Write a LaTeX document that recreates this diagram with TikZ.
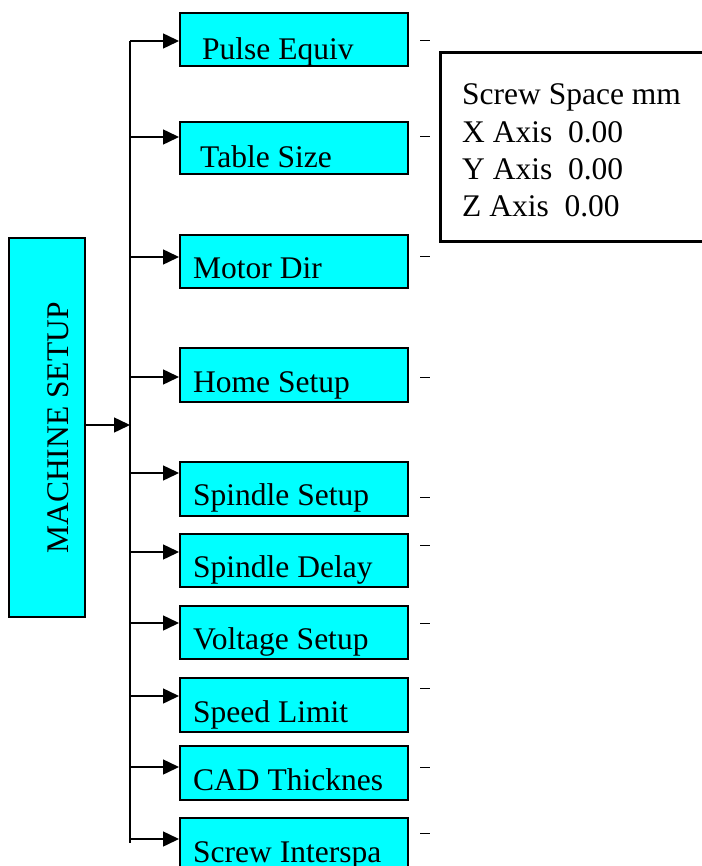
\documentclass[tikz,border=0pt]{standalone}
\usepackage{fontspec}
\setmainfont{Liberation Serif}
\usetikzlibrary{arrows.meta}
\definecolor{boxcyan}{RGB}{0,255,255}

\begin{document}
\begin{tikzpicture}[x=1pt, y=-1pt,
    menubox/.style={draw, line width=2pt, fill=boxcyan, inner sep=0pt},
    menutext/.style={anchor=base west, inner sep=0pt, font=\fontsize{31.5}{37.5}\selectfont},
    feed/.style={line width=1.5pt, -{Triangle[length=16pt, width=15pt]}}]
      \useasboundingbox (0,0) rectangle (701,866);

      \node[menubox, minimum width=76pt, minimum height=379pt] (mbox) at (47,427.5) {};
      \node[menutext, anchor=base, rotate=90] (mtext) at (68,428) {MACHINE SETUP};

      \coordinate (hub) at (130,425);
      \coordinate (trunktop) at (130,41);
      \coordinate (trunkbot) at (130,843);
      \draw[line width=1.5pt] (trunktop) -- (trunkbot);
      \draw[feed] (mbox.east |- hub) -- (hub);

      \foreach \n/\top/\bot/\ay/\dy/\tx/\ty/\txt in {
          pulse/13/66/41/41/202/60/Pulse Equiv,
          table/122/174/137/137/200/168/Table Size,
          motor/235/288/257/257/193/278/Motor Dir,
          home/348/402/377/377/193/392/Home Setup,
          spset/462/516/473/497/193/505/Spindle Setup,
          spdel/534/587/552/545/193/577/Spindle Delay,
          volt/606/659/623/623/193/649/Voltage Setup,
          speed/678/732/696/688/193/722/Speed Limit,
          cad/746/800/767/767/193/790/CAD Thicknes,
          screw/818/871/839/833/193/862/Screw Interspa} {
        \node[menubox, minimum width=228pt, minimum height=\bot-\top] (b\n) at (294,{(\top+\bot)/2}) {};
        \node[menutext] (t\n) at (\tx,\ty) {\txt};
        \coordinate (a\n) at (130,\ay);
        \draw[feed] (a\n) -- (a\n -| b\n.west);
        \draw[line width=1pt] (420,\dy) -- (430,\dy);
      }

      \draw[line width=3pt] (712,53) -- (440,53) -- (440,242) -- (712,242);
      \foreach \k/\ly/\row in {1/105/Screw Space mm, 2/143/X Axis\ \ 0.00,
                               3/180/Y Axis\ \ 0.00, 4/217/Z Axis\ \ 0.00} {
        \node[menutext] (screen\k) at (462,\ly) {\row};
      }
    \end{tikzpicture}
\end{document}
